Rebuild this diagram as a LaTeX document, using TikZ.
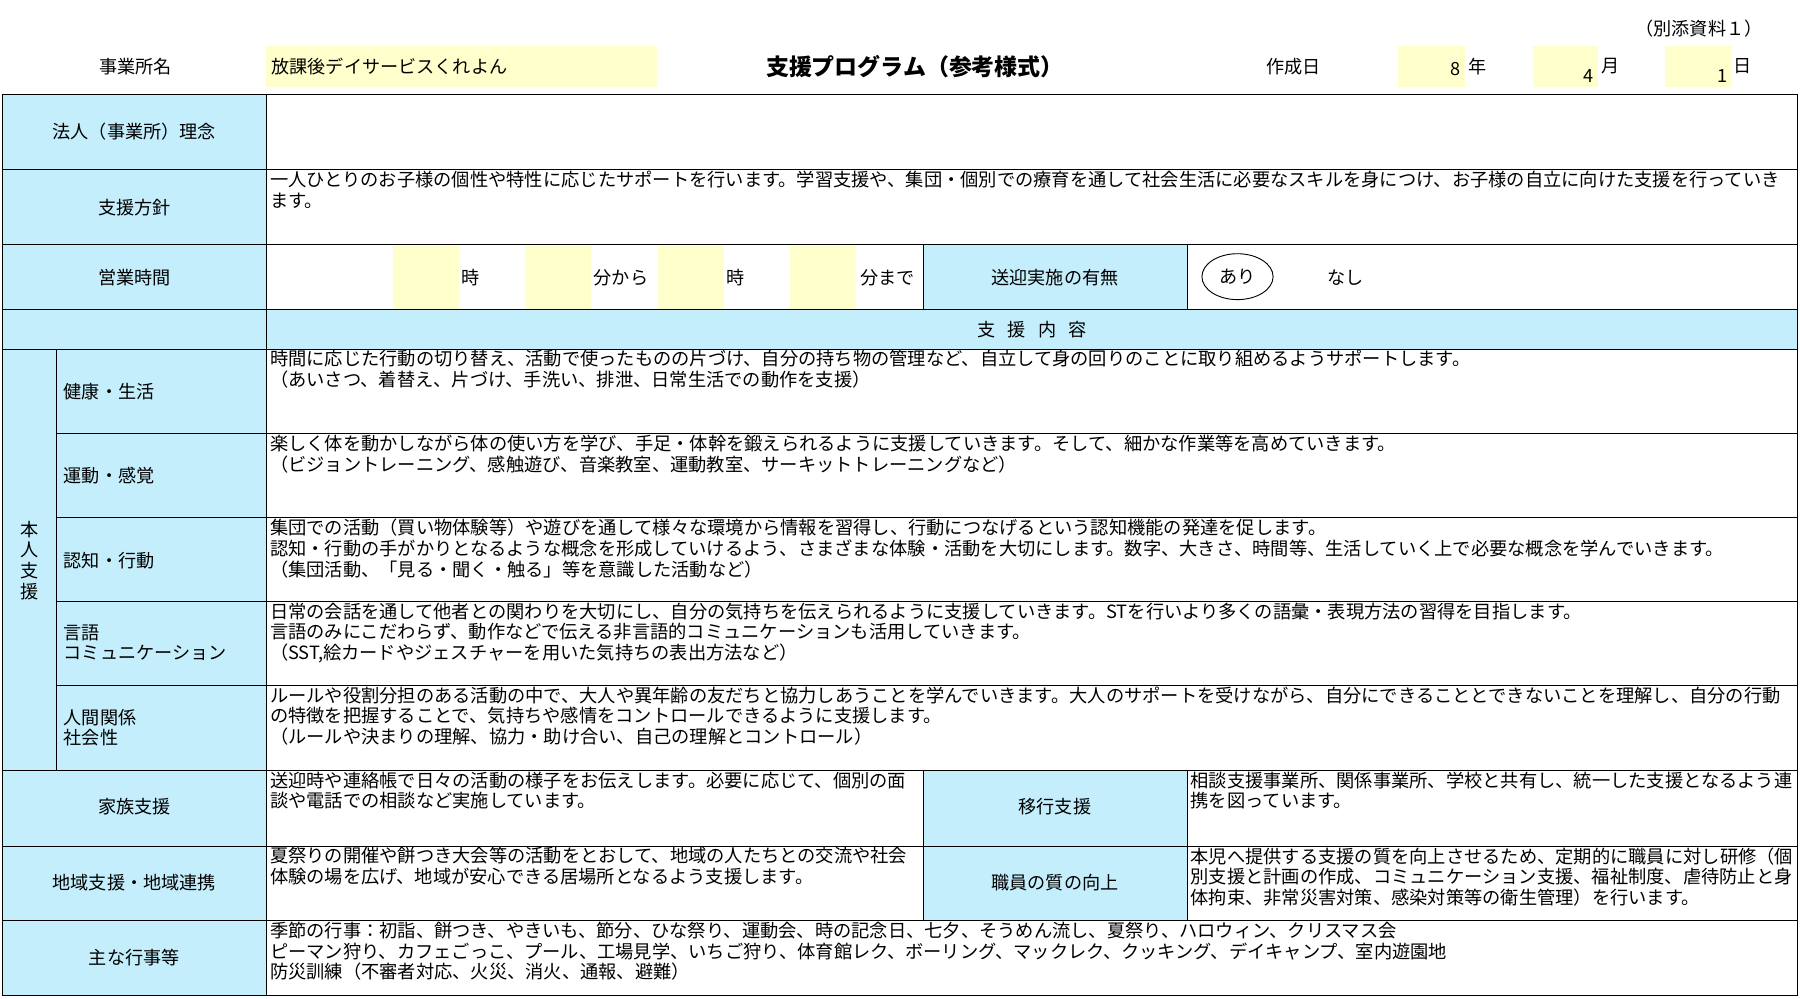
\documentclass[tikz,border=0pt]{standalone}
\usepackage{fontspec}
\usetikzlibrary{shapes.geometric}
\setmainfont{Noto Sans CJK JP}
\definecolor{lb}{HTML}{C5EEFC}
\definecolor{ly}{HTML}{FFFFCC}
\begin{document}
\begin{tikzpicture}[x=1pt,y=-1pt,
 cell/.style={draw=black,line width=0.8pt},
 lbl/.style={font=\fontsize{15.8}{18}\selectfont},
 txt/.style={anchor=north west,inner sep=0pt,align=left,font=\fontsize{15.9}{18}\selectfont}]
\useasboundingbox (0,0) rectangle (1568,870);
% header
\node[lbl] (bet) at (1480,25) {（別添資料１）};
\node[lbl] (jn) at (118,58) {事業所名};
\fill[ly] (232,40) rectangle (572,76);
\node[lbl,anchor=west] (jname) at (233,58) {放課後デイサービスくれよん};
\node[font=\fontsize{20}{22}\selectfont\bfseries] (title) at (797,58) {支援プログラム（参考様式）};
\node[lbl] (sd) at (1127,58) {作成日};
\fill[ly] (1218,40) rectangle (1276,76);
\fill[ly] (1335,40) rectangle (1392,76);
\fill[ly] (1450,40) rectangle (1508,76);
\node[lbl,anchor=east] (y8) at (1276,60) {8};
\node[lbl] (nen) at (1287,58) {年};
\node[lbl,anchor=east] (m4) at (1392,66) {4};
\node[lbl] (tsuki) at (1403,58) {月};
\node[lbl,anchor=east] (d1) at (1508,66) {1};
\node[lbl] (hi) at (1518,58) {日};
% blue fills
\foreach \a/\b in {82/148,148/213,213/270,270/304,671/737,737/802,802/867}
  \fill[lb] (2,\a) rectangle (232,\b);
\fill[lb] (232,270) rectangle (1566,304);
\fill[lb] (2,304) rectangle (232,671);
\fill[lb] (804,213) rectangle (1034,270);
\fill[lb] (804,671) rectangle (1034,802);
\foreach \x in {342,457,573,688} \fill[ly] (\x,214) rectangle (\x+58,269);
% grid
\draw[cell] (2,82) rectangle (1566,867);
\foreach \y in {148,213,270,304,671,737,802} \draw[cell] (2,\y) -- (1566,\y);
\foreach \y in {378,451,524,597} \draw[cell] (49,\y) -- (1566,\y);
\draw[cell] (232,82) -- (232,867);
\draw[cell] (49,304) -- (49,671);
\draw[cell] (804,213) -- (804,270);
\draw[cell] (1034,213) -- (1034,270);
\draw[cell] (804,671) -- (804,802);
\draw[cell] (1034,671) -- (1034,802);
% labels
\node[lbl] (l1) at (117,115) {法人（事業所）理念};
\node[lbl] (l2) at (117,181) {支援方針};
\node[lbl] (l3) at (117,242) {営業時間};
\node[lbl] (l5) at (117,703) {家族支援};
\node[lbl] (l6) at (117,769) {地域支援・地域連携};
\node[lbl] (l7) at (117,834) {主な行事等};
\node[lbl] (l8) at (919,703) {移行支援};
\node[lbl] (l9) at (919,769) {職員の質の向上};
\node[lbl] (l10) at (919,242) {送迎実施の有無};
\node[lbl] (sk) at (899,287) {支\ \ \ 援\ \ \ 内\ \ \ 容};
\node[lbl,align=center,font=\fontsize{15.8}{18}\selectfont] (hon) at (26,488) {本\\人\\支\\援};
\node[lbl,anchor=west] (s1) at (52,341) {健康・生活};
\node[lbl,anchor=west] (s2) at (52,414) {運動・感覚};
\node[lbl,anchor=west] (s3) at (52,488) {認知・行動};
\node[lbl,anchor=west,align=left] (s4) at (52,560) {言語\\コミュニケーション};
\node[lbl,anchor=west,align=left] (s5) at (52,634) {人間関係\\社会性};
% hours
\node[lbl] (h1) at (410,242) {時};
\node[lbl] (h2) at (541,242) {分から};
\node[lbl] (h3) at (641,242) {時};
\node[lbl] (h4) at (773,242) {分まで};
\node[lbl,draw,ellipse,minimum width=62pt,minimum height=40pt,inner sep=0pt,line width=0.8pt] (ari) at (1078,241) {あり};
\node[lbl] (nashi) at (1172,242) {なし};
% texts
\node[txt] (t2) at (235,149) {一人ひとりのお子様の個性や特性に応じたサポートを行います。学習支援や、集団・個別での療育を通して社会生活に必要なスキルを身につけ、お子様の自立に向けた支援を行っていき\\ます。};
\node[txt] (t4) at (235,305) {時間に応じた行動の切り替え、活動で使ったものの片づけ、自分の持ち物の管理など、自立して身の回りのことに取り組めるようサポートします。\\（あいさつ、着替え、片づけ、手洗い、排泄、日常生活での動作を支援）};
\node[txt] (t5) at (235,379) {楽しく体を動かしながら体の使い方を学び、手足・体幹を鍛えられるように支援していきます。そして、細かな作業等を高めていきます。\\（ビジョントレーニング、感触遊び、音楽教室、運動教室、サーキットトレーニングなど）};
\node[txt] (t6) at (235,452) {集団での活動（買い物体験等）や遊びを通して様々な環境から情報を習得し、行動につなげるという認知機能の発達を促します。\\認知・行動の手がかりとなるような概念を形成していけるよう、さまざまな体験・活動を大切にします。数字、大きさ、時間等、生活していく上で必要な概念を学んでいきます。\\（集団活動、「見る・聞く・触る」等を意識した活動など）};
\node[txt] (t7) at (235,525) {日常の会話を通して他者との関わりを大切にし、自分の気持ちを伝えられるように支援していきます。STを行いより多くの語彙・表現方法の習得を目指します。\\言語のみにこだわらず、動作などで伝える非言語的コミュニケーションも活用していきます。\\（SST,絵カードやジェスチャーを用いた気持ちの表出方法など）};
\node[txt] (t8) at (235,598) {ルールや役割分担のある活動の中で、大人や異年齢の友だちと協力しあうことを学んでいきます。大人のサポートを受けながら、自分にできることとできないことを理解し、自分の行動\\の特徴を把握することで、気持ちや感情をコントロールできるように支援します。\\（ルールや決まりの理解、協力・助け合い、自己の理解とコントロール）};
\node[txt] (t9) at (235,672) {送迎時や連絡帳で日々の活動の様子をお伝えします。必要に応じて、個別の面\\談や電話での相談など実施しています。};
\node[txt] (t10) at (1037,672) {相談支援事業所、関係事業所、学校と共有し、統一した支援となるよう連\\携を図っています。};
\node[txt] (t11) at (235,738) {夏祭りの開催や餅つき大会等の活動をとおして、地域の人たちとの交流や社会\\体験の場を広げ、地域が安心できる居場所となるよう支援します。};
\node[txt] (t12) at (1037,738) {本児へ提供する支援の質を向上させるため、定期的に職員に対し研修（個\\別支援と計画の作成、コミュニケーション支援、福祉制度、虐待防止と身\\体拘束、非常災害対策、感染対策等の衛生管理）を行います。};
\node[txt] (t13) at (235,803) {季節の行事：初詣、餅つき、やきいも、節分、ひな祭り、運動会、時の記念日、七夕、そうめん流し、夏祭り、ハロウィン、クリスマス会\\ピーマン狩り、カフェごっこ、プール、工場見学、いちご狩り、体育館レク、ボーリング、マックレク、クッキング、デイキャンプ、室内遊園地\\防災訓練（不審者対応、火災、消火、通報、避難）};
\end{tikzpicture}
\end{document}
